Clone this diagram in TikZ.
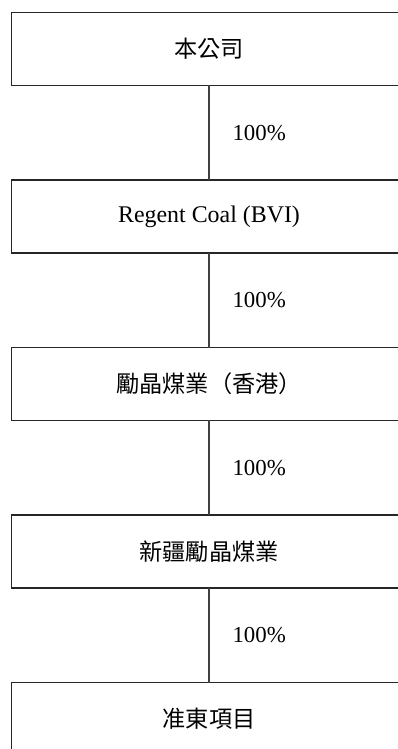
\documentclass[tikz,border=0pt]{standalone}
\usepackage{fontspec}
\setmainfont{Liberation Serif}
\newfontfamily\cjk{Noto Sans CJK TC}
\usepackage{tikz}

\begin{document}
\begin{tikzpicture}[x=0.02cm,y=-0.02cm]
    \tikzset{caja/.style = {shape=rectangle,draw=black!85,line width=0.6pt,minimum width=7.92cm,minimum height=1.46cm,inner sep=0pt,outer sep=0pt,font=\fontsize{13.6}{16}\selectfont}}
    \tikzset{enlace/.style = {draw=black!75,line width=0.6pt}}
    \tikzset{pct/.style = {anchor=west,inner sep=0pt,xshift=0.46cm,font=\fontsize{13}{15}\selectfont}}

    \useasboundingbox (0,0) rectangle (398,749);

    \node[caja] (empresa) at (209,49) {\cjk\fontsize{13.2}{16}\selectfont 本公司};
    \node[caja] (regent) at (209,216.5) {Regent Coal (BVI)};
    \node[caja] (liqing) at (209,384) {\cjk\fontsize{13.2}{16}\selectfont 勵晶煤業（香港）};
    \node[caja] (xinjiang) at (209,551.5) {\cjk\fontsize{13.2}{16}\selectfont 新疆勵晶煤業};
    \node[caja] (zhundong) at (209,719) {\cjk\fontsize{13.2}{16}\selectfont 准東項目};

    \draw [enlace] (empresa) to node[pct] {100\%} (regent);
    \draw [enlace] (regent) to node[pct] {100\%} (liqing);
    \draw [enlace] (liqing) to node[pct] {100\%} (xinjiang);
    \draw [enlace] (xinjiang) to node[pct] {100\%} (zhundong);
\end{tikzpicture}
\end{document}
